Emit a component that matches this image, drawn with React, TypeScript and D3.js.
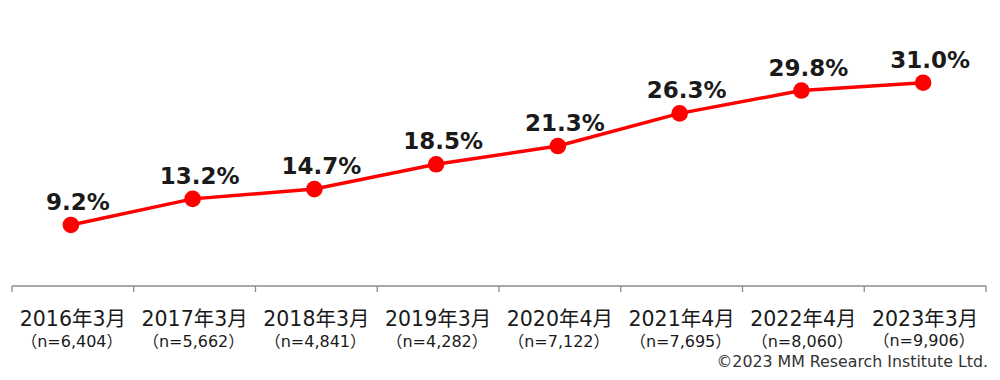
import React from "react";
import * as d3 from "d3";

const categories = ["2016年3月", "2017年3月", "2018年3月", "2019年3月", "2020年4月", "2021年4月", "2022年4月", "2023年3月"];
const sampleSizes = ["（n=6,404）", "（n=5,662）", "（n=4,841）", "（n=4,282）", "（n=7,122）", "（n=7,695）", "（n=8,060）", "（n=9,906）"];
const values = [9.2, 13.2, 14.7, 18.5, 21.3, 26.3, 29.8, 31.0];
const copyright = "©2023 MM Research Institute Ltd.";

export default function App() {
  const W = 1000, H = 380;
  const x = d3.scaleBand<string>().domain(categories).range([12, 986]).padding(0);
  const y = d3.scaleLinear().domain([0, 40]).range([285, 24]);
  const cx = (c: string) => (x(c) as number) + x.bandwidth() / 2 - 2;
  const line = d3.line<number>().x((_, i) => cx(categories[i])).y((v) => y(v));
  const axisY = 286;
  const tickXs = categories.map((c) => x(c) as number).concat([(x(categories[categories.length - 1]) as number) + x.bandwidth()]);
  const font = "'DejaVu Sans', 'Noto Sans CJK JP', sans-serif";
  return (
    <svg width={W} height={H} style={{ position: "absolute", left: 0, top: 0, background: "#fff" }} fontFamily={font}>
      <line x1={tickXs[0]} x2={tickXs[tickXs.length - 1]} y1={axisY} y2={axisY} stroke="#8c8c8c" strokeWidth={1.3} />
      {tickXs.map((t, i) => (
        <line key={i} x1={t} x2={t} y1={axisY} y2={axisY + 6} stroke="#8c8c8c" strokeWidth={1.3} />
      ))}
      {categories.map((c, i) => (
        <g key={c}>
          <text x={(x(c) as number) + x.bandwidth() / 2} y={326} textAnchor="middle" fontSize={20.5} fill="#1a1a1a">{c}</text>
          <text x={(x(c) as number) + x.bandwidth() / 2 - 1} y={i === categories.length - 1 ? 345.5 : 347} textAnchor="middle" fontSize={16} fill="#1a1a1a">{sampleSizes[i]}</text>
        </g>
      ))}
      <path d={line(values) as string} fill="none" stroke="#ff0000" strokeWidth={3.5} />
      {values.map((v, i) => (
        <circle key={i} cx={cx(categories[i])} cy={y(v)} r={8.3} fill="#ff0000" />
      ))}
      {values.map((v, i) => (
        <text key={i} x={cx(categories[i]) + 7} y={y(v) - 15} textAnchor="middle" fontSize={23} fontWeight="bold" fill="#1a1a1a">{v.toFixed(1) + "%"}</text>
      ))}
      <text x={988} y={367} textAnchor="end" fontSize={15.8} fill="#333">{copyright}</text>
    </svg>
  );
}
